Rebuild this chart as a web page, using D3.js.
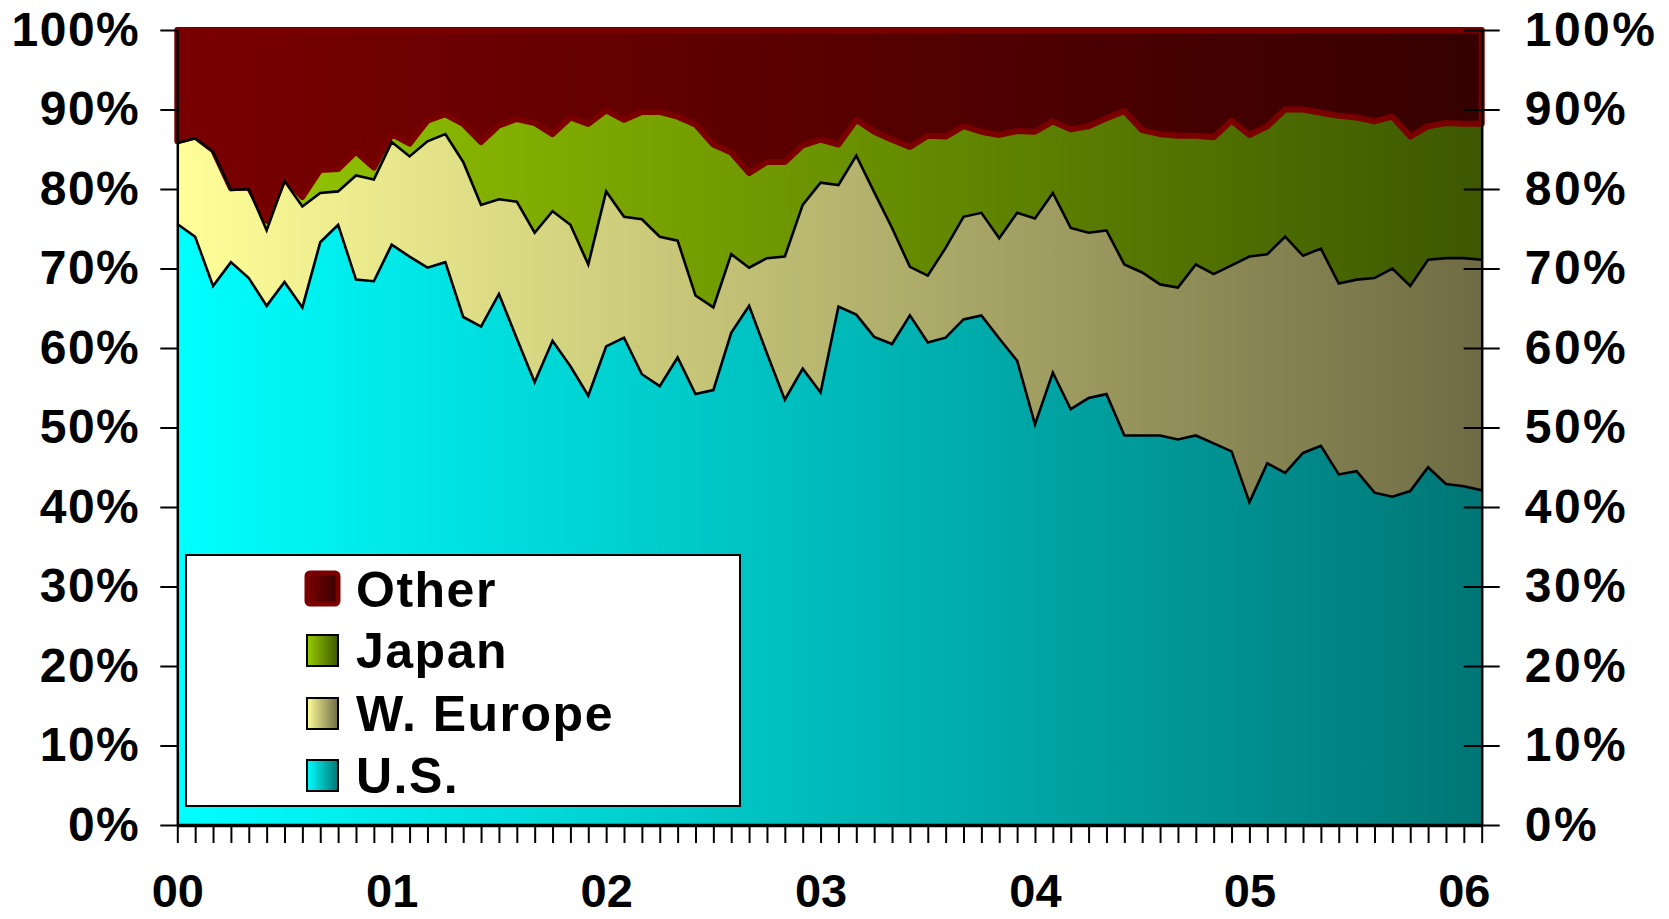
<!DOCTYPE html>
<html>
<head>
<meta charset="utf-8">
<script src="https://cdn.jsdelivr.net/npm/d3@7"></script>
<style>
  html, body { margin: 0; padding: 0; background: #ffffff; }
  svg { display: block; }
  text { font-family: "Liberation Sans", Arial, sans-serif; font-weight: bold; fill: #000; }
</style>
</head>
<body>
<svg id="chart" width="1669" height="919"></svg>
<script>
// ---- Data (share of total, %) ----
const categories = d3.timeMonth.range(new Date(2000, 0, 1), new Date(2006, 2, 1)).map(d3.timeFormat("%Y-%m"));
const yearLabels = ["00", "01", "02", "03", "04", "05", "06"];
const seriesNames = ["U.S.", "W. Europe", "Japan", "Other"];
const yTicks = [0, 0.1, 0.2, 0.3, 0.4, 0.5, 0.6, 0.7, 0.8, 0.9, 1.0];

const us = [75.6,74.0,67.8,70.8,68.8,65.3,68.3,65.1,73.3,75.5,68.6,68.4,
            73.0,71.5,70.1,70.8,63.9,62.7,66.8,61.2,55.7,60.9,57.7,54.0,
            60.2,61.3,56.7,55.2,58.8,54.2,54.7,61.9,65.3,59.3,53.5,57.4,
            54.4,65.2,64.2,61.4,60.5,64.1,60.7,61.3,63.6,64.1,61.2,58.4,
            50.4,56.9,52.3,53.7,54.2,49.0,49.0,49.0,48.5,49.0,48.0,47.0,
            40.6,45.5,44.3,46.8,47.7,44.1,44.5,41.8,41.3,42.0,45.0,42.9,
            42.6,42.1];
const wEurope = [10.2,12.4,16.9,9.1,11.2,9.5,12.7,12.7,6.2,4.2,13.1,12.8,
            12.9,12.6,15.9,16.1,19.5,15.3,11.9,17.2,18.8,16.3,17.8,16.5,
            19.5,15.2,19.5,18.8,14.7,12.4,10.4,9.9,4.8,12.0,18.0,20.6,
            26.4,15.3,20.0,18.2,14.6,6.1,8.4,11.3,12.9,12.9,12.6,18.6,
            25.9,22.6,22.8,20.8,20.6,21.5,20.5,19.0,19.1,21.5,21.3,23.4,
            30.9,26.3,29.7,24.8,24.8,24.0,24.1,27.0,28.7,25.8,26.1,28.4,
            28.7,29.0];
const japan = [0.2,0.2,0.2,0.2,0.2,1.2,0.4,1.2,2.9,2.8,3.0,1.5,
            1.0,1.6,2.6,2.5,4.8,7.9,9.3,10.4,13.8,9.7,13.5,17.7,
            10.2,12.2,13.5,15.7,15.6,21.5,20.5,12.8,11.9,12.1,11.9,7.5,
            5.4,5.1,4.5,7.6,11.1,15.1,17.6,14.0,11.4,10.2,13.0,10.3,
            10.9,9.0,12.4,13.4,14.1,19.3,17.9,18.9,19.1,16.2,17.2,18.2,
            15.3,16.1,16.0,18.4,17.1,21.1,20.4,19.7,19.1,18.8,16.8,17.0,
            16.9,17.1];
const other = [14.0,13.4,15.1,19.9,19.8,24.0,18.6,21.0,17.6,17.5,15.3,17.3,
            13.1,14.3,11.4,10.6,11.8,14.1,12.0,11.2,11.7,13.1,11.0,11.8,
            10.1,11.3,10.3,10.3,10.9,11.9,14.4,15.4,18.0,16.6,16.6,14.5,
            13.8,14.4,11.3,12.8,13.8,14.7,13.3,13.4,12.1,12.8,13.2,12.7,
            12.8,11.5,12.5,12.1,11.1,10.2,12.6,13.1,13.3,13.3,13.5,11.4,
            13.2,12.1,10.0,10.0,10.4,10.8,11.0,11.5,10.9,13.4,12.1,11.7,
            11.8,11.8];

// ---- Build table ----
const keys = ["us", "we", "japan", "other"];
const rows = categories.map((m, i) => ({ month: m, us: us[i], we: wEurope[i], japan: japan[i], other: other[i] }));
const stacked = d3.stack().keys(keys).offset(d3.stackOffsetExpand)(rows);

// ---- Layout ----
const svg = d3.select("#chart");
const X0 = 177.3, X1 = 1481.7, Y0 = 825, Y1 = 30;
const x = d3.scalePoint().domain(categories).range([X0, X1]).padding(0);
const y = d3.scaleLinear().domain([0, 1]).range([Y0, Y1]);

const gradColors = {
  us:    ["#00ffff", "#007676"],
  we:    ["#ffff99", "#6f6c45"],
  japan: ["#99cc00", "#3d5800"],
  other: ["#7a0000", "#360000"]
};
const defs = svg.append("defs");
keys.forEach(k => {
  const g = defs.append("linearGradient").attr("id", "g-" + k)
    .attr("gradientUnits", "userSpaceOnUse")
    .attr("x1", X0).attr("x2", X1).attr("y1", 0).attr("y2", 0);
  g.append("stop").attr("offset", "0%").attr("stop-color", gradColors[k][0]);
  g.append("stop").attr("offset", "100%").attr("stop-color", gradColors[k][1]);
  const gl = defs.append("linearGradient").attr("id", "gl-" + k)
    .attr("x1", "0%").attr("x2", "100%").attr("y1", "0%").attr("y2", "0%");
  gl.append("stop").attr("offset", "0%").attr("stop-color", gradColors[k][0]);
  gl.append("stop").attr("offset", "100%").attr("stop-color", gradColors[k][1]);
});

const area = d3.area()
  .x(d => x(d.data.month))
  .y0(d => y(d[0]))
  .y1(d => y(d[1]));

svg.append("g").selectAll("path").data(stacked).join("path")
  .attr("d", area)
  .attr("fill", d => `url(#g-${d.key})`)
  .attr("stroke", "none");

// Other series border (thick maroon)
const otherLayer = stacked.find(s => s.key === "other");
svg.append("path").datum(otherLayer)
  .attr("d", area)
  .attr("fill", "none")
  .attr("stroke", "#7a0000")
  .attr("stroke-width", 6)
  .attr("stroke-linejoin", "round");

// black boundary lines for U.S. and W. Europe tops
const topLine = d3.line().x(d => x(d.data.month)).y(d => y(d[1]));
svg.append("g").selectAll("path")
  .data(stacked.filter(s => s.key === "us" || s.key === "we")).join("path")
  .attr("d", topLine)
  .attr("fill", "none")
  .attr("stroke", "#000")
  .attr("stroke-width", 2.6)
  .attr("stroke-linejoin", "miter");

// ---- Axes ----
const fmt = d3.format(".0%");
const leftAxis = svg.append("g").attr("transform", `translate(${X0},0)`)
  .call(d3.axisLeft(y).tickValues(yTicks).tickFormat(fmt).tickSizeInner(17).tickSizeOuter(0).tickPadding(20));
const rightAxis = svg.append("g").attr("transform", `translate(${X1},0)`)
  .call(d3.axisRight(y).tickValues(yTicks).tickFormat(fmt).tickSizeInner(18).tickSizeOuter(0).tickPadding(25));
rightAxis.selectAll(".tick line").attr("x1", -18);

const bottomTicks = svg.append("g").attr("transform", `translate(0,${Y0})`)
  .call(d3.axisBottom(x).tickValues(categories).tickFormat("").tickSizeInner(18).tickSizeOuter(0));
const labelMonths = categories.filter((c, i) => i % 12 === 0);
const bottomLabels = svg.append("g").attr("transform", `translate(0,${Y0})`)
  .call(d3.axisBottom(x).tickValues(labelMonths)
    .tickFormat((d, i) => yearLabels[i]).tickSize(0).tickPadding(49));
bottomLabels.select(".domain").remove();

[leftAxis, rightAxis, bottomTicks, bottomLabels].forEach(g => {
  g.selectAll("text").attr("font-size", 48).attr("font-family", "Liberation Sans, Arial, sans-serif")
    .attr("font-weight", "bold").attr("fill", "#000");
  g.selectAll(".tick line").attr("stroke", "#000").attr("stroke-width", 2);
});
bottomLabels.selectAll("text").attr("font-size", 47);
leftAxis.selectAll("text").attr("letter-spacing", 1.5);
rightAxis.selectAll("text").attr("letter-spacing", 2.5);
leftAxis.select(".domain").attr("stroke", "#000").attr("stroke-width", 2.5);
rightAxis.select(".domain").attr("stroke", "#000").attr("stroke-width", 2.5);
bottomTicks.select(".domain").attr("stroke", "#000").attr("stroke-width", 3.5);

// ---- Legend ----
const legend = svg.append("g");
legend.append("rect")
  .attr("x", 186).attr("y", 555).attr("width", 554).attr("height", 251)
  .attr("fill", "#fff").attr("stroke", "#000").attr("stroke-width", 2);
const legendItems = [
  { key: "other", name: seriesNames[3] },
  { key: "japan", name: seriesNames[2] },
  { key: "we",    name: seriesNames[1] },
  { key: "us",    name: seriesNames[0] }
];
const baselines = [607, 668, 731, 793];
legendItems.forEach((it, i) => {
  const b = baselines[i];
  if (it.key === "other") {
    legend.append("rect").attr("x", 307).attr("y", b - 34).attr("width", 31).attr("height", 31)
      .attr("rx", 3).attr("fill", `url(#gl-${it.key})`)
      .attr("stroke", "#7a0000").attr("stroke-width", 5);
  } else {
    legend.append("rect").attr("x", 307).attr("y", b - 33).attr("width", 31).attr("height", 31)
      .attr("fill", `url(#gl-${it.key})`)
      .attr("stroke", "#000").attr("stroke-width", 2);
  }
  legend.append("text").attr("x", 356).attr("y", b)
    .attr("font-size", 50).attr("letter-spacing", 1.5).text(it.name);
});
</script>
</body>
</html>
